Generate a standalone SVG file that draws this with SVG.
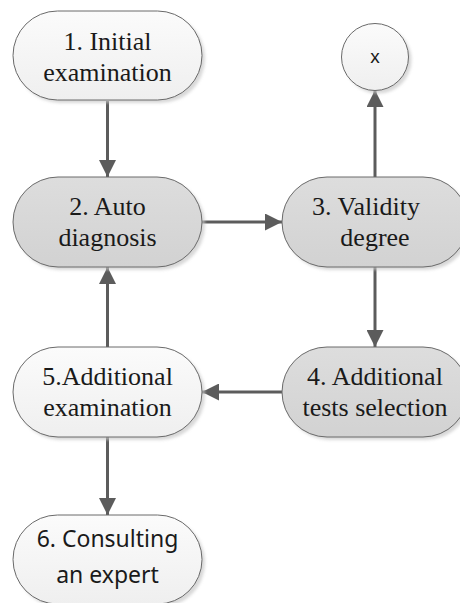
<svg xmlns="http://www.w3.org/2000/svg" width="460" height="603" viewBox="0 0 460 603">
  <defs>
    <linearGradient id="gW" x1="0" y1="0" x2="0" y2="1">
      <stop offset="0" stop-color="#fbfbfb"/>
      <stop offset="1" stop-color="#efefef"/>
    </linearGradient>
    <linearGradient id="gG" x1="0" y1="0" x2="0" y2="1">
      <stop offset="0" stop-color="#dddddd"/>
      <stop offset="1" stop-color="#d2d2d2"/>
    </linearGradient>
    <filter id="sh" x="-10%" y="-10%" width="130%" height="130%">
      <feGaussianBlur stdDeviation="1.5"/>
    </filter>
    <marker id="ah" viewBox="0 0 17 17" refX="17" refY="8.5" markerWidth="17" markerHeight="17" markerUnits="userSpaceOnUse" orient="auto">
      <path d="M0,0 L17,8.5 L0,17 Z" fill="#5c5c5c"/>
    </marker>
  </defs>
  <style>
    .shadow { fill: #c8c8c8; opacity: 0.7; filter: url(#sh); }
    .white { fill: url(#gW); stroke: #6a6a6a; stroke-width: 1; }
    .gray { fill: url(#gG); stroke: #6a6a6a; stroke-width: 1; }
    .serif { font-family: "Liberation Serif", "Times New Roman", serif; font-size: 26px; fill: #1a1a1a; text-anchor: middle; }
    .sans { font-family: "Noto Sans", "Open Sans", sans-serif; font-size: 23px; fill: #1a1a1a; text-anchor: middle; }
    .x { font-family: "Liberation Sans", Arial, sans-serif; font-size: 19px; fill: #1a1a1a; text-anchor: middle; }
    .conn { stroke: #5c5c5c; stroke-width: 3; fill: none; marker-end: url(#ah); }
  </style>

  <g id="connectors">
    <line class="conn" x1="107.5" y1="101" x2="107.5" y2="177"/>
    <line class="conn" x1="202" y1="222" x2="282" y2="222"/>
    <line class="conn" x1="375" y1="177" x2="375" y2="90"/>
    <line class="conn" x1="375" y1="267" x2="375" y2="347"/>
    <line class="conn" x1="282" y1="392" x2="202" y2="392"/>
    <line class="conn" x1="107.5" y1="347" x2="107.5" y2="267"/>
    <line class="conn" x1="107.5" y1="437" x2="107.5" y2="515"/>
  </g>

  <g id="node1">
    <rect class="shadow" x="16" y="14" width="189" height="89" rx="44.5"/>
    <rect class="white" x="13" y="11" width="189" height="89" rx="44.5"/>
    <text class="serif" x="107.5" y="50">1. Initial</text>
    <text class="serif" x="107.5" y="81">examination</text>
  </g>

  <g id="nodeX">
    <circle class="shadow" cx="378" cy="60" r="33.5"/>
    <circle class="white" cx="375" cy="57" r="33.5"/>
    <text class="x" x="375" y="63">x</text>
  </g>

  <g id="node2">
    <rect class="shadow" x="16" y="180" width="189" height="90" rx="45"/>
    <rect class="gray" x="13" y="177" width="189" height="90" rx="45"/>
    <text class="serif" x="107.5" y="215">2. Auto</text>
    <text class="serif" x="107.5" y="246">diagnosis</text>
  </g>

  <g id="node3">
    <rect class="shadow" x="285" y="180" width="186" height="90" rx="45"/>
    <rect class="gray" x="282" y="177" width="186" height="90" rx="45"/>
    <text class="serif" x="366" y="215">3. Validity</text>
    <text class="serif" x="375" y="246">degree</text>
  </g>

  <g id="node4">
    <rect class="shadow" x="285" y="350" width="186" height="90" rx="45"/>
    <rect class="gray" x="282" y="347" width="186" height="90" rx="45"/>
    <text class="serif" x="375" y="385">4. Additional</text>
    <text class="serif" x="375" y="416">tests selection</text>
  </g>

  <g id="node5">
    <rect class="shadow" x="16" y="350" width="189" height="90" rx="45"/>
    <rect class="white" x="13" y="347" width="189" height="90" rx="45"/>
    <text class="serif" x="107.5" y="385">5.Additional</text>
    <text class="serif" x="107.5" y="416">examination</text>
  </g>

  <g id="node6">
    <rect class="shadow" x="16" y="518" width="189" height="89" rx="44.5"/>
    <rect class="white" x="13" y="515" width="189" height="89" rx="44.5"/>
    <text class="sans" x="107.5" y="547">6. Consulting</text>
    <text class="sans" x="107.5" y="583">an expert</text>
  </g>
</svg>
